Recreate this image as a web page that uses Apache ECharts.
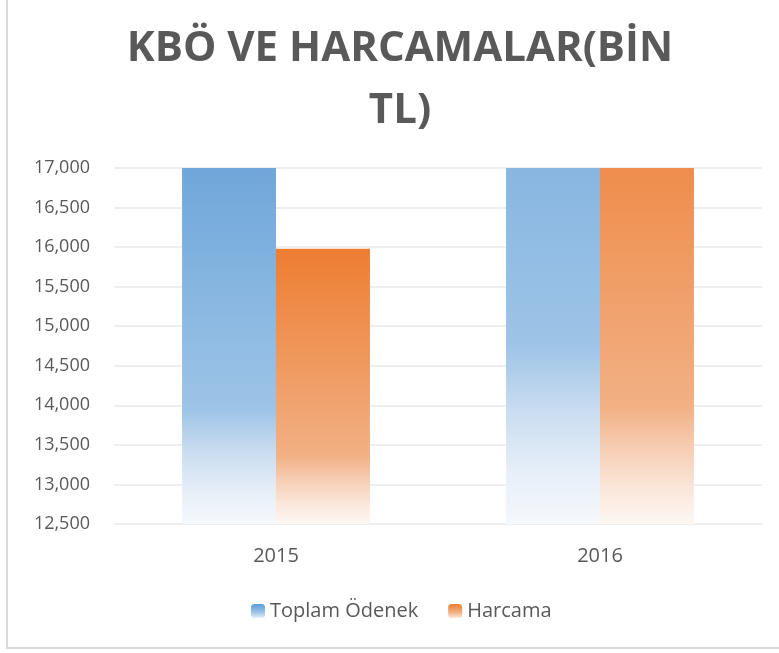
<!DOCTYPE html>
<html>
<head>
<meta charset="utf-8">
<script src="https://cdn.jsdelivr.net/npm/echarts@6/dist/echarts.min.js"></script>
<style>html,body{margin:0;padding:0;background:#fff}#c{width:779px;height:653px}</style>
</head>
<body>
<div id="c"></div>
<script>
// ---- data ----
const categories = ['2015', '2016'];
const seriesNames = ['Toplam Ödenek', 'Harcama'];
const toplamOdenek = [18270, 21550];
const harcama = [15980, 18430];
const yMin = 12500, yMax = 17000, yInterval = 500;
const titleText = 'KBÖ VE HARCAMALAR(BİN\nTL)';

// gradient stops relative to the full (unclipped) bar, Excel-like fade
const blueStops = [[0, [91,155,213]], [0.75, [158,196,231]], [0.84, [201,220,240]], [0.93, [231,239,248]], [1, [245,248,252]]];
const orangeStops = [[0, [237,125,49]], [0.75, [242,176,132]], [0.84, [246,206,180]], [0.93, [251,232,220]], [1, [253,247,243]]];

function lerp(a, b, t) { return a.map((v, i) => Math.round(v + (b[i] - v) * t)); }
function colorAt(stops, f) {
  for (let i = 1; i < stops.length; i++) {
    if (f <= stops[i][0]) {
      const t = (f - stops[i-1][0]) / (stops[i][0] - stops[i-1][0]);
      return lerp(stops[i-1][1], stops[i][1], t);
    }
  }
  return stops[stops.length-1][1];
}
function rgb(c) { return 'rgb(' + c.join(',') + ')'; }
// map full-bar gradient onto the clipped (visible) bar
function gradFor(v, stops) {
  const H = v - yMin, h = Math.min(v, yMax) - yMin, hidden = H - h;
  const f0 = hidden / H;
  const cs = [{offset: 0, color: rgb(colorAt(stops, f0))}];
  stops.forEach(s => {
    if (s[0] > f0) {
      const g = (s[0] * H - hidden) / h;
      cs.push({offset: Math.min(1, g), color: rgb(s[1])});
    }
  });
  return {type: 'linear', x: 0, y: 0, x2: 0, y2: 1, colorStops: cs};
}
function items(vals, stops) {
  return vals.map(v => ({value: v, itemStyle: {color: gradFor(v, stops)}}));
}
function legendGrad(stops) {
  return {type: 'linear', x: 0, y: 0, x2: 0, y2: 1, colorStops: [
    {offset: 0, color: rgb(stops[0][1])}, {offset: 0.6, color: rgb(stops[1][1])}, {offset: 1, color: rgb(stops[3][1])}]};
}

const chart = echarts.init(document.getElementById('c'), null, {renderer: 'canvas'});
chart.setOption({
  animation: false,
  backgroundColor: '#fff',
  title: {
    text: titleText, left: 395, top: 13, textAlign: 'center',
    textStyle: {fontFamily: 'Open Sans', fontWeight: 'bold', fontSize: 42, color: '#595959', lineHeight: 62}
  },
  legend: {
    top: 596, left: 246, itemWidth: 14, itemHeight: 14, itemGap: 30,
    textStyle: {fontFamily: 'Open Sans', fontSize: 20, color: '#595959'},
    data: [
      {name: seriesNames[0], itemStyle: {color: legendGrad(blueStops)}},
      {name: seriesNames[1], itemStyle: {color: legendGrad(orangeStops)}}
    ]
  },
  grid: {left: 114, right: 17, top: 168, bottom: 129, containLabel: false},
  xAxis: {
    type: 'category', data: categories,
    axisLine: {show: false}, axisTick: {show: false},
    axisLabel: {fontFamily: 'Open Sans', fontSize: 20, color: '#595959', margin: 22}
  },
  yAxis: {
    type: 'value', min: yMin, max: yMax, interval: yInterval,
    axisLine: {show: false}, axisTick: {show: false},
    axisLabel: {fontFamily: 'Open Sans', fontSize: 18, color: '#595959', margin: 24,
      formatter: v => v.toLocaleString('en-US')},
    splitLine: {lineStyle: {color: '#eeeeee', width: 2}}
  },
  series: [
    {name: seriesNames[0], type: 'bar', data: items(toplamOdenek, blueStops), barGap: '0%', barCategoryGap: '42%', clip: true},
    {name: seriesNames[1], type: 'bar', data: items(harcama, orangeStops), barGap: '0%', barCategoryGap: '42%', clip: true}
  ],
  graphic: [
    {type: 'line', shape: {x1: 7, y1: 0, x2: 7, y2: 648}, style: {stroke: '#d9d9d9', lineWidth: 2}},
    {type: 'line', shape: {x1: 6, y1: 648, x2: 779, y2: 648}, style: {stroke: '#d9d9d9', lineWidth: 2}}
  ]
});
</script>
</body>
</html>
